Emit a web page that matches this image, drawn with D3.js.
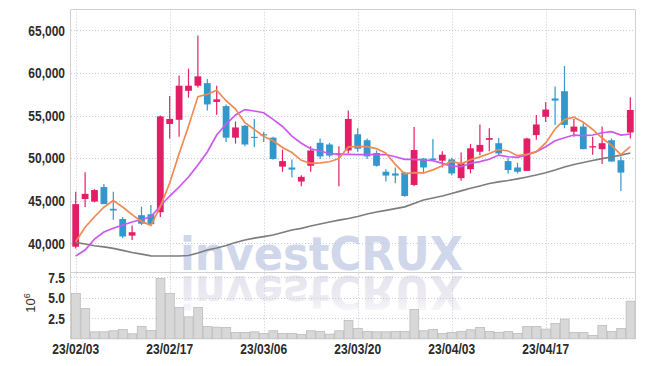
<!DOCTYPE html>
<html>
<head>
<meta charset="utf-8">
<script src="https://cdn.jsdelivr.net/npm/d3@7"></script>
<style>
  html, body { margin: 0; padding: 0; background: #fff; }
  svg { display: block; }
  .tick text { font-family: 'Liberation Sans', Arial, sans-serif; font-size: 15px; font-weight: bold; fill: #2b2b2b; }
</style>
</head>
<body>
<svg id="chart" width="645" height="366"></svg>
<script>
// trading days (yy/mm/dd)
const dates = [
  '23/02/03','23/02/06','23/02/07','23/02/08','23/02/09','23/02/10','23/02/13','23/02/14','23/02/15','23/02/16',
  '23/02/17','23/02/20','23/02/21','23/02/22','23/02/23','23/02/24','23/02/27','23/02/28','23/03/02','23/03/03',
  '23/03/06','23/03/07','23/03/08','23/03/09','23/03/10','23/03/13','23/03/14','23/03/15','23/03/16','23/03/17',
  '23/03/20','23/03/21','23/03/22','23/03/23','23/03/24','23/03/27','23/03/28','23/03/29','23/03/30','23/03/31',
  '23/04/03','23/04/04','23/04/05','23/04/06','23/04/07','23/04/10','23/04/11','23/04/12','23/04/13','23/04/14',
  '23/04/17','23/04/18','23/04/19','23/04/20','23/04/21','23/04/24','23/04/25','23/04/26','23/04/27','23/04/28'
];
const xTickLabels = ['23/02/03', '23/02/17', '23/03/06', '23/03/20', '23/04/03', '23/04/17'];

const open = [
  39600, 45200, 44900, 46600, 44050, 42850, 40900, 43300, 43400, 43650,
  54000, 54500, 57900, 58500, 58800, 56600, 56100, 52400, 53800, 52500,
  52800, 52400, 49000, 48900, 47250, 49100, 51800, 51600, 50350, 50900,
  52800, 52100, 50600, 48400, 48200, 48300, 46850, 49950, 49950, 49700,
  49850, 47650, 48700, 50750, 52150, 51750, 49650, 48900, 48500, 52700,
  54850, 57000, 57850, 53100, 53700, 51250, 51050, 52100, 49750, 53000
];
const high = [
  46050, 48350, 46350, 46950, 46050, 43100, 42100, 44300, 44500, 55000,
  57300, 59700, 60500, 64400, 59300, 58500, 56300, 54300, 53900, 54600,
  53100, 52500, 51000, 49850, 48000, 51400, 52300, 51800, 51400, 55600,
  53500, 52300, 50900, 48700, 48900, 48400, 53650, 50000, 52250, 50800,
  50000, 50650, 51650, 53950, 53500, 52350, 50000, 49450, 52400, 55050,
  56550, 58400, 60800, 54600, 54100, 52500, 53700, 52300, 50200, 57150
];
const low = [
  39400, 44250, 44800, 44600, 42750, 40600, 40400, 42150, 42200, 43100,
  52300, 52500, 57100, 58300, 55600, 55100, 51900, 51700, 51400, 51300,
  51900, 49800, 48400, 47750, 46700, 48400, 49900, 50100, 46700, 50550,
  50750, 49900, 49000, 47250, 47050, 45450, 46700, 48200, 49700, 48900,
  48000, 47350, 48200, 50350, 50800, 50350, 48200, 48200, 48500, 52150,
  54250, 53900, 53500, 52500, 51050, 50400, 49300, 49600, 46150, 52300
];
const close = [
  44600, 45800, 46250, 44600, 43850, 40800, 41300, 42300, 42250, 54900,
  54600, 58500, 58500, 59600, 56300, 56900, 52400, 53600, 51600, 52400,
  52700, 49900, 49650, 48650, 47800, 50900, 50200, 50300, 50550, 54600,
  51100, 50200, 49100, 47950, 47950, 45550, 50950, 48900, 49750, 50400,
  48200, 49450, 51150, 51550, 52350, 50550, 48600, 48400, 52300, 53950,
  55700, 56750, 53900, 53700, 51050, 51400, 51750, 49600, 48300, 55650
];
const volume = [
  5530000, 3700000, 850000, 850000, 980000, 1140000, 610000, 1500000, 1020000, 7360000,
  5530000, 3820000, 2680000, 3820000, 1500000, 1420000, 1380000, 770000, 770000, 850000,
  650000, 980000, 650000, 650000, 530000, 980000, 890000, 570000, 980000, 2240000,
  1260000, 890000, 850000, 850000, 890000, 890000, 3580000, 980000, 1150000, 650000,
  770000, 890000, 1100000, 1380000, 890000, 770000, 890000, 650000, 1500000, 1500000,
  1180000, 1870000, 2400000, 770000, 770000, 410000, 1630000, 890000, 1260000, 4590000
];
// moving averages as drawn (orange / purple / gray)
const ma5 = [
  40190, 41880, 43120, 44230, 45020, 44260, 43360, 42570, 42100, 44310,
  47070, 50510, 53750, 57220, 57500, 57960, 56740, 55760, 54160, 53380,
  52540, 52040, 51250, 50660, 49740, 49380, 49440, 49570, 49950, 51310,
  51350, 51350, 51110, 50590, 49260, 48150, 48300, 48260, 48620, 49110,
  49640, 49340, 49790, 50150, 50540, 51010, 50840, 50290, 50440, 50760,
  51790, 53420, 54520, 54800, 54220, 53360, 52360, 51500, 50420, 51340
];
const ma20 = [
  38510, 39210, 40500, 41330, 41760, 42150, 42500, 42790, 43120, 44380,
  45550, 46610, 47780, 49190, 50720, 52710, 54000, 55060, 55700, 55530,
  55330, 54550, 53710, 52590, 51740, 51100, 50830, 50540, 50450, 50450,
  50420, 50420, 50420, 50420, 50160, 49860, 49860, 49780, 49700, 49390,
  49070, 48990, 49390, 49580, 49860, 50360, 50160, 50090, 50360, 50750,
  51340, 52040, 52390, 52710, 52630, 52710, 52980, 53100, 52710, 52830
];
const ma60 = [
  40070, 39920, 39710, 39570, 39400, 39160, 38920, 38720, 38530, 38510,
  38510, 38510, 38570, 38860, 39210, 39450, 39740, 40090, 40390, 40600,
  40790, 40970, 41270, 41560, 41760, 42030, 42270, 42500, 42710, 42910,
  43150, 43440, 43670, 43870, 44080, 44280, 44670, 45080, 45320, 45550,
  45850, 46160, 46460, 46730, 47020, 47200, 47370, 47570, 47780, 48020,
  48280, 48600, 48960, 49250, 49480, 49720, 49930, 50130, 50360, 50600
];
const priceTicks = [40000, 45000, 50000, 55000, 60000, 65000];
const volumeTicks = [2500000, 5000000, 7500000];

const plotLeft = 71, plotRight = 635, plotTop = 9.3, panelSplit = 272, plotBottom = 338.8;

const svg = d3.select('#chart');

const x = d3.scaleBand().domain(dates).range([plotLeft, plotRight]).padding(0);
const yP = d3.scaleLinear().domain([36630, 67470]).range([panelSplit, plotTop]);
const yV = d3.scaleLinear().domain([0, 8150000]).range([plotBottom, panelSplit]);
const cx = d => x(d) + x.bandwidth() / 2;

// narrow the tick labels (condensed look)
const condense = g => g.selectAll('.tick text').each(function () {
  const w = this.getComputedTextLength();
  this.setAttribute('textLength', (w * 0.8).toFixed(1));
  this.setAttribute('lengthAdjust', 'spacingAndGlyphs');
});

// watermark + reflection
const defs = svg.append('defs');
const grad = defs.append('linearGradient').attr('id', 'fade')
  .attr('x1', 0).attr('y1', 0).attr('x2', 0).attr('y2', 1);
grad.append('stop').attr('offset', '0%').attr('stop-color', '#e4e1eb').attr('stop-opacity', 0);
grad.append('stop').attr('offset', '40%').attr('stop-color', '#e4e1eb').attr('stop-opacity', 0.7);
grad.append('stop').attr('offset', '100%').attr('stop-color', '#e4e1eb').attr('stop-opacity', 1);

const wmFont = 'DejaVu Sans, Liberation Sans, sans-serif';
const wm = svg.append('g');
wm.append('g').attr('transform', 'translate(0,' + (2 * 273) + ') scale(1,-1)')
  .append('text')
  .attr('x', 180).attr('y', 270)
  .attr('textLength', 283).attr('lengthAdjust', 'spacingAndGlyphs')
  .attr('font-family', wmFont)
  .attr('font-weight', 'bold').attr('font-size', 47)
  .attr('fill', 'url(#fade)')
  .text('investCRUX');
wm.append('text')
  .attr('x', 180).attr('y', 270)
  .attr('textLength', 283).attr('lengthAdjust', 'spacingAndGlyphs')
  .attr('font-family', wmFont)
  .attr('font-weight', 'bold').attr('font-size', 47)
  .attr('fill', '#d0d7ea')
  .text('investCRUX');

// grid
const grid = svg.append('g').attr('stroke', '#c6cadc').attr('stroke-width', 1).attr('stroke-dasharray', '1,2');
grid.selectAll('.hp').data(priceTicks).enter().append('line')
  .attr('x1', plotLeft).attr('x2', plotRight)
  .attr('y1', d => Math.round(yP(d)) + 0.5).attr('y2', d => Math.round(yP(d)) + 0.5);
grid.selectAll('.hv').data(volumeTicks).enter().append('line')
  .attr('x1', plotLeft).attr('x2', plotRight)
  .attr('y1', d => Math.round(yV(d)) + 0.5).attr('y2', d => Math.round(yV(d)) + 0.5);
grid.selectAll('.vx').data(xTickLabels).enter().append('line')
  .attr('x1', d => Math.round(cx(d)) + 0.5).attr('x2', d => Math.round(cx(d)) + 0.5)
  .attr('y1', plotTop).attr('y2', plotBottom);

// frame
const frame = svg.append('g').attr('stroke', '#d0d0d0').attr('stroke-width', 1).attr('fill', 'none');
frame.append('line').attr('x1', plotLeft).attr('x2', plotRight).attr('y1', 9.5).attr('y2', 9.5);
frame.append('line').attr('x1', plotLeft).attr('x2', plotRight).attr('y1', panelSplit + 0.5).attr('y2', panelSplit + 0.5);
frame.append('line').attr('x1', plotLeft - 0.5).attr('x2', plotLeft - 0.5).attr('y1', 9.5).attr('y2', plotBottom);
frame.append('line').attr('x1', plotRight + 0.5).attr('x2', plotRight + 0.5).attr('y1', 9.5).attr('y2', plotBottom);

// volume bars
svg.append('g').selectAll('rect').data(dates).enter().append('rect')
  .attr('x', d => x(d) + 0.5)
  .attr('width', x.bandwidth() - 0.6)
  .attr('y', (d, i) => yV(volume[i]))
  .attr('height', (d, i) => plotBottom - yV(volume[i]))
  .attr('fill', '#d8d8d8')
  .attr('stroke', '#bcbcbc')
  .attr('stroke-width', 0.8);

// candles
const upColor = '#e41e66', downColor = '#3298cb';
const bodyW = 6.8;
const candles = svg.append('g').selectAll('g').data(dates).enter().append('g');
candles.append('line')
  .attr('x1', d => cx(d)).attr('x2', d => cx(d))
  .attr('y1', (d, i) => yP(high[i])).attr('y2', (d, i) => yP(low[i]))
  .attr('stroke', (d, i) => close[i] > open[i] ? upColor : downColor)
  .attr('stroke-width', 1.2);
candles.append('rect')
  .attr('x', d => cx(d) - bodyW / 2)
  .attr('width', bodyW)
  .attr('y', (d, i) => yP(Math.max(open[i], close[i])))
  .attr('height', (d, i) => Math.max(1.2, Math.abs(yP(open[i]) - yP(close[i]))))
  .attr('fill', (d, i) => close[i] > open[i] ? upColor : downColor);

// moving averages
const maLine = arr => d3.line().x((d, i) => cx(dates[i])).y(d => yP(d))(arr);
svg.append('path').attr('d', maLine(ma60)).attr('fill', 'none').attr('stroke', '#7d7d7d').attr('stroke-width', 1.7);
svg.append('path').attr('d', maLine(ma20)).attr('fill', 'none').attr('stroke', '#cb58ee').attr('stroke-width', 1.7);
svg.append('path').attr('d', maLine(ma5)).attr('fill', 'none').attr('stroke', '#ef8a52').attr('stroke-width', 1.7);

// axes
const yAxisP = d3.axisLeft(yP).tickValues(priceTicks).tickFormat(d3.format(',')).tickSize(0).tickPadding(6);
svg.append('g').attr('transform', 'translate(' + plotLeft + ',0)').call(yAxisP)
  .call(g => g.select('.domain').remove()).call(condense);

const yAxisV = d3.axisLeft(yV).tickValues(volumeTicks).tickFormat(d => d3.format('.1f')(d / 1e6)).tickSize(0).tickPadding(6);
svg.append('g').attr('transform', 'translate(' + plotLeft + ',0)').call(yAxisV)
  .call(g => g.select('.domain').remove()).call(condense);

const xAxis = d3.axisBottom(x).tickValues(xTickLabels).tickSize(0).tickPadding(5);
svg.append('g').attr('transform', 'translate(0,' + plotBottom + ')').call(xAxis)
  .call(g => g.select('.domain').remove()).call(condense);

const unit = svg.append('text')
  .attr('transform', 'translate(35,303) rotate(-90)')
  .attr('text-anchor', 'middle')
  .attr('font-family', 'Liberation Sans, Arial, sans-serif')
  .attr('font-size', 13)
  .attr('fill', '#333');
unit.append('tspan').text('10');
unit.append('tspan').attr('dy', -5).attr('font-size', 9).text('6');
</script>
</body>
</html>
